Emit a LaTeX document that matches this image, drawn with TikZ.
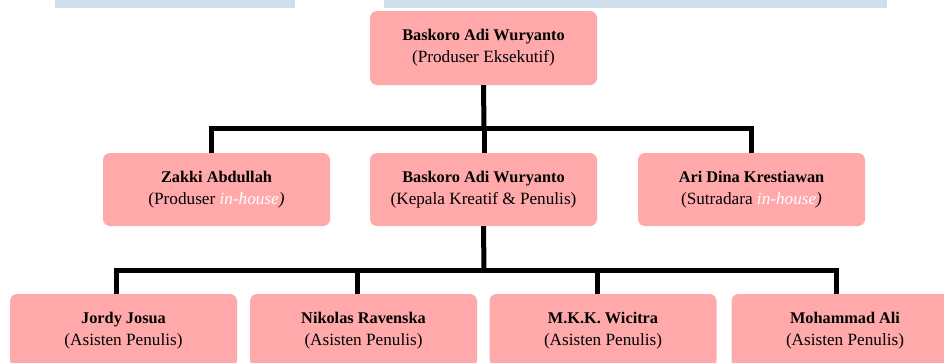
\documentclass[tikz,border=0pt]{standalone}
\usepackage{fontspec}
\setmainfont{Liberation Serif}
\definecolor{boxpink}{HTML}{FFA9AA}
\definecolor{topblue}{HTML}{CEDFEE}
\newcommand{\nm}[1]{\raisebox{-2pt}{\fontsize{16.3}{22}\selectfont\bfseries #1}}
\newcommand{\rl}[1]{\raisebox{-2pt}{\fontsize{17.2}{22}\selectfont #1}}
\begin{document}
\begin{tikzpicture}[x=1pt,y=-1pt,
  card/.style={fill=boxpink, rounded corners=7pt, minimum width=227pt, inner sep=0pt, align=center, font=\fontsize{16}{22}\selectfont},
  conn/.style={line width=5pt, black}]
\useasboundingbox (0,0) rectangle (944,362);
\clip (0,0) rectangle (944,362);
\fill[topblue] (55,-5) rectangle (295,8);
\fill[topblue] (384,-5) rectangle (887,8);
% nodes
\node[card, minimum height=74pt] (top) at (483.5,48) {\nm{Baskoro Adi Wuryanto}\\\rl{(Produser Eksekutif)}};
\node[card, minimum height=73pt] (zakki) at (216.5,189.5) {\nm{Zakki Abdullah}\\\rl{(Produser \textcolor{white}{\itshape in-house}\textit{)}}};
\node[card, minimum height=73pt] (bas) at (483.5,189.5) {\nm{Baskoro Adi Wuryanto}\\\rl{(Kepala Kreatif \& Penulis)}};
\node[card, minimum height=73pt] (ari) at (751.5,189.5) {\nm{Ari Dina Krestiawan}\\\rl{(Sutradara \textcolor{white}{\itshape in-house}\textit{)}}};
\node[card, minimum height=73pt] (jordy) at (123.5,330.5) {\nm{Jordy Josua}\\\rl{(Asisten Penulis)}};
\node[card, minimum height=73pt] (niko) at (363.5,330.5) {\nm{Nikolas Ravenska}\\\rl{(Asisten Penulis)}};
\node[card, minimum height=73pt] (mkk) at (603,330.5) {\nm{M.K.K. Wicitra}\\\rl{(Asisten Penulis)}};
\node[card, minimum height=73pt] (moh) at (845,330.5) {\nm{Mohammad Ali}\\\rl{(Asisten Penulis)}};
% junctions
\coordinate (t1) at (484,128);
\coordinate (l1) at (211,128);
\coordinate (r1) at (751,128);
\coordinate (t2) at (484,270);
\coordinate (l2) at (116,270);
\coordinate (m2a) at (357,270);
\coordinate (m2b) at (597,270);
\coordinate (r2) at (836,270);
\draw[conn] (top.south) -- (t1);
\draw[conn, line cap=rect] (l1) -- (r1);
\draw[conn] (l1) -- (l1 |- zakki.north);
\draw[conn] (t1) -- (t1 |- bas.north);
\draw[conn] (r1) -- (r1 |- ari.north);
\draw[conn] (bas.south) -- (t2);
\draw[conn, line cap=rect] (l2) -- (r2);
\draw[conn] (l2) -- (l2 |- jordy.north);
\draw[conn] (m2a) -- (m2a |- niko.north);
\draw[conn] (m2b) -- (m2b |- mkk.north);
\draw[conn] (r2) -- (r2 |- moh.north);
\end{tikzpicture}
\end{document}
